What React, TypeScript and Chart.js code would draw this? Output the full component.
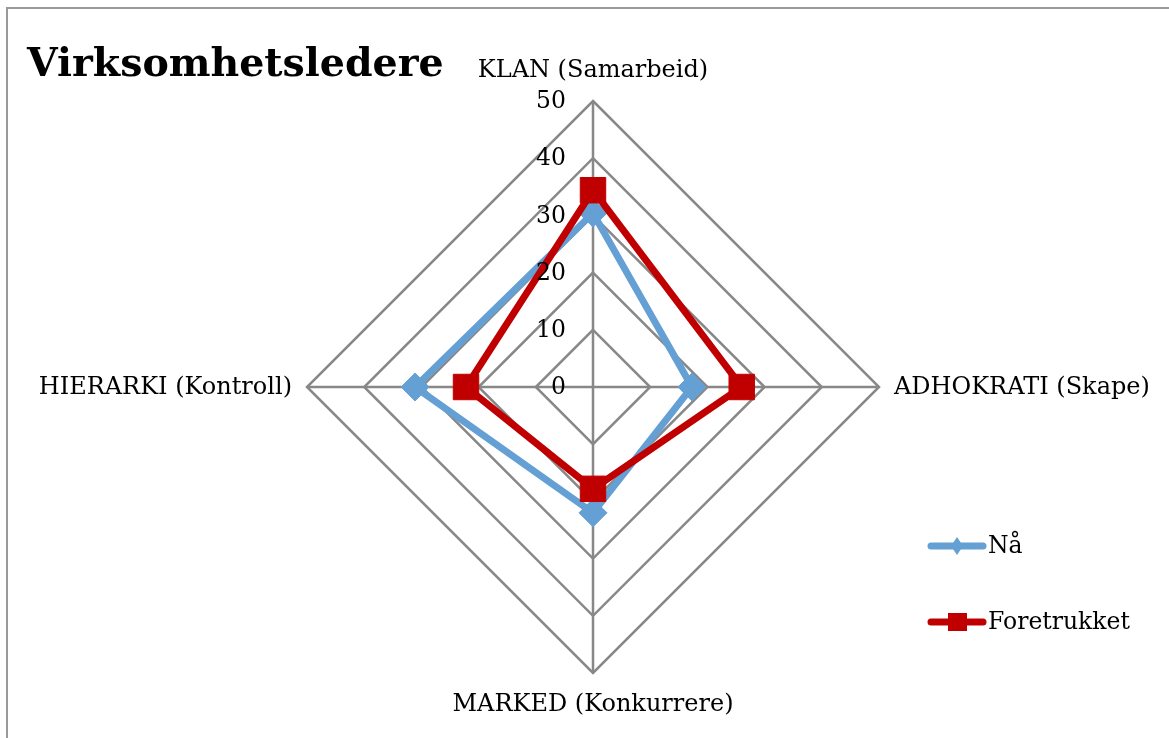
import React, { useEffect, useRef } from 'react';
import { Chart, registerables } from 'chart.js';

Chart.register(...registerables);

const title = 'Virksomhetsledere';
const categories = ['KLAN (Samarbeid)', 'ADHOKRATI (Skape)', 'MARKED (Konkurrere)', 'HIERARKI (Kontroll)'];
const seriesNames = ['Nå', 'Foretrukket'];
const naValues = [30.4, 17.3, 22, 31.1];
const foretrukketValues = [34.4, 26, 17.8, 22.2];
const tickValues = [0, 10, 20, 30, 40, 50];

const BLUE = '#65a0d5';
const RED = '#c00000';
const GRID = '#888888';
const FONT = '"DejaVu Serif", serif';

const overlayPlugin = {
  id: 'overlay',
  afterDraw(chart: any) {
    const ctx = chart.ctx;
    const scale = chart.scales.r;
    const cx = scale.xCenter;
    const cy = scale.yCenter;
    ctx.save();
    ctx.fillStyle = '#000';

    // title
    ctx.font = `bold 39.5px ${FONT}`;
    ctx.textAlign = 'left';
    ctx.textBaseline = 'alphabetic';
    ctx.fillText(title, 27, 76);

    // tick labels
    ctx.font = `23.5px ${FONT}`;
    ctx.textAlign = 'right';
    ctx.textBaseline = 'middle';
    tickValues.forEach((v) => {
      const d = scale.getDistanceFromCenterForValue(v);
      ctx.fillText(String(v), cx - 27, cy - d + 1);
    });

    // point labels
    ctx.font = `24px ${FONT}`;
    categories.forEach((lab, i) => {
      const vtx = scale.getPointPosition(i, scale.drawingArea);
      const horizontal = Math.abs(vtx.x - cx) > Math.abs(vtx.y - cy);
      const p = scale.getPointPosition(i, scale.drawingArea + (horizontal ? 15 : 31));
      ctx.textAlign = horizontal ? (p.x > cx ? 'left' : 'right') : 'center';
      ctx.textBaseline = 'middle';
      ctx.fillText(lab, p.x, p.y + 1);
    });

    // legend
    const ds = chart.data.datasets;
    seriesNames.forEach((name, i) => {
      const d = ds.find((x: any) => x.label === name);
      const y = 546 + i * 76;
      ctx.strokeStyle = d.borderColor;
      ctx.lineWidth = 7;
      ctx.lineCap = 'round';
      ctx.beginPath();
      ctx.moveTo(931, y);
      ctx.lineTo(983, y);
      ctx.stroke();
      ctx.fillStyle = d.borderColor;
      ctx.beginPath();
      if (d.pointStyle === 'rectRot') {
        ctx.moveTo(957, y - 9);
        ctx.lineTo(963, y);
        ctx.lineTo(957, y + 9);
        ctx.lineTo(951, y);
      } else {
        ctx.rect(948, y - 9, 19, 18);
      }
      ctx.closePath();
      ctx.fill();
      ctx.fillStyle = '#000';
      ctx.font = `23.5px ${FONT}`;
      ctx.textAlign = 'left';
      ctx.textBaseline = 'middle';
      ctx.fillText(name, 988, y + 1);
    });
    ctx.restore();
  },
};

export default function App() {
  const ref = useRef<HTMLCanvasElement | null>(null);
  useEffect(() => {
    if (!ref.current) return;
    const chart = new Chart(ref.current, {
      type: 'radar',
      data: {
        labels: categories,
        datasets: [
          {
            label: seriesNames[0],
            data: naValues,
            borderColor: BLUE,
            backgroundColor: BLUE,
            pointBackgroundColor: BLUE,
            pointBorderColor: BLUE,
            borderWidth: 7,
            pointStyle: 'rectRot',
            pointRadius: 14,
            pointBorderWidth: 1,
            fill: false,
            order: 1,
          },
          {
            label: seriesNames[1],
            data: foretrukketValues,
            borderColor: RED,
            backgroundColor: RED,
            pointBackgroundColor: RED,
            pointBorderColor: RED,
            borderWidth: 7,
            pointStyle: 'rect',
            pointRadius: 18,
            pointBorderWidth: 1,
            fill: false,
            order: 0,
          },
        ],
      },
      options: {
        responsive: false,
        animation: false,
        layout: { padding: { left: 307, right: 290, top: 101, bottom: 65 } },
        plugins: { legend: { display: false }, tooltip: { enabled: false } },
        elements: { line: { tension: 0, borderJoinStyle: 'miter' } },
        scales: {
          r: {
            min: 0,
            max: 50,
            ticks: { stepSize: 10, display: false },
            grid: { circular: false, color: GRID, lineWidth: 2.5 },
            angleLines: { display: true, color: GRID, lineWidth: 2.5 },
            pointLabels: { display: false },
          },
        },
      },
      plugins: [overlayPlugin],
    } as any);
    return () => chart.destroy();
  }, []);

  return (
    <div style={{ position: 'fixed', left: 0, top: 0, width: 1169, height: 738, background: '#fff', overflow: 'hidden' }}>
      <div
        style={{
          position: 'absolute',
          left: 6,
          top: 7,
          width: 1300,
          height: 900,
          borderTop: '2px solid #999',
          borderLeft: '2px solid #999',
        }}
      />
      <canvas ref={ref} width={1169} height={738} style={{ position: 'absolute', left: 0, top: 0 }} />
    </div>
  );
}
